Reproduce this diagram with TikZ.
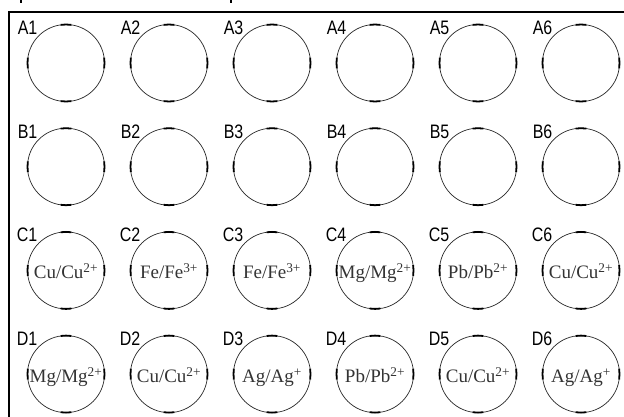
\documentclass[tikz,border=0pt]{standalone}
\usepackage{fontspec}
\setmainfont{Liberation Serif}
\newfontfamily\tagfont[FakeStretch=0.82]{Liberation Sans}
\usepackage{tikz}
\usetikzlibrary{positioning}

\begin{document}
\begin{tikzpicture}[
    x=1pt, y=-1pt,
    node distance=26.7pt and 26pt,
    well/.style={circle, draw=black!85, line width=0.7pt, minimum size=77pt, inner sep=0pt, outer sep=0pt, text height=17pt, text depth=0pt, text=black!80, font=\fontsize{19}{22}\selectfont},
    tag/.style={font=\tagfont\fontsize{19.5}{21}\selectfont, text=black, inner sep=1.2pt, text height=14pt, text depth=0pt},
    tick/.style={line width=1.8pt, draw=black},
    frame/.style={line width=2pt, draw=black}
]
\useasboundingbox (0,0) rectangle (624,417);

% Frame
\draw[frame] (9,417) -- (9,12) -- (624,12);
\draw[frame] (21,0) -- (21,3);
\draw[frame] (231,0) -- (231,3);

% Row A
\node[well, label={[tag]135:A1}] (A1) at (66,63) {};
\node[well, right=of A1, label={[tag]135:A2}] (A2) {};
\node[well, right=of A2, label={[tag]135:A3}] (A3) {};
\node[well, right=of A3, label={[tag]135:A4}] (A4) {};
\node[well, right=of A4, label={[tag]135:A5}] (A5) {};
\node[well, right=of A5, label={[tag]135:A6}] (A6) {};

% Row B
\node[well, below=of A1, label={[tag]135:B1}] (B1) {};
\node[well, right=of B1, label={[tag]135:B2}] (B2) {};
\node[well, right=of B2, label={[tag]135:B3}] (B3) {};
\node[well, right=of B3, label={[tag]135:B4}] (B4) {};
\node[well, right=of B4, label={[tag]135:B5}] (B5) {};
\node[well, right=of B5, label={[tag]135:B6}] (B6) {};

% Row C
\node[well, below=of B1, label={[tag]135:C1}] (C1) {Cu/Cu\textsuperscript{2+}};
\node[well, right=of C1, label={[tag]135:C2}] (C2) {Fe/Fe\textsuperscript{3+}};
\node[well, right=of C2, label={[tag]135:C3}] (C3) {Fe/Fe\textsuperscript{3+}};
\node[well, right=of C3, label={[tag]135:C4}] (C4) {Mg/Mg\textsuperscript{2+}};
\node[well, right=of C4, label={[tag]135:C5}] (C5) {Pb/Pb\textsuperscript{2+}};
\node[well, right=of C5, label={[tag]135:C6}] (C6) {Cu/Cu\textsuperscript{2+}};

% Row D
\node[well, below=of C1, label={[tag]135:D1}] (D1) {Mg/Mg\textsuperscript{2+}};
\node[well, right=of D1, label={[tag]135:D2}] (D2) {Cu/Cu\textsuperscript{2+}};
\node[well, right=of D2, label={[tag]135:D3}] (D3) {Ag/Ag\textsuperscript{+}};
\node[well, right=of D3, label={[tag]135:D4}] (D4) {Pb/Pb\textsuperscript{2+}};
\node[well, right=of D4, label={[tag]135:D5}] (D5) {Cu/Cu\textsuperscript{2+}};
\node[well, right=of D5, label={[tag]135:D6}] (D6) {Ag/Ag\textsuperscript{+}};

% Ticks on the rims
\foreach \w in {A1,A2,A3,A4,A5,A6,B1,B2,B3,B4,B5,B6,C1,C2,C3,C4,C5,C6,D1,D2,D3,D4,D5,D6}
  \foreach \a/\s in {0/352,90/82,180/172,270/262}
    \draw[tick] (\w.\s) arc[start angle=\a-8, end angle=\a+8, radius=38.5pt];

\end{tikzpicture}
\end{document}
